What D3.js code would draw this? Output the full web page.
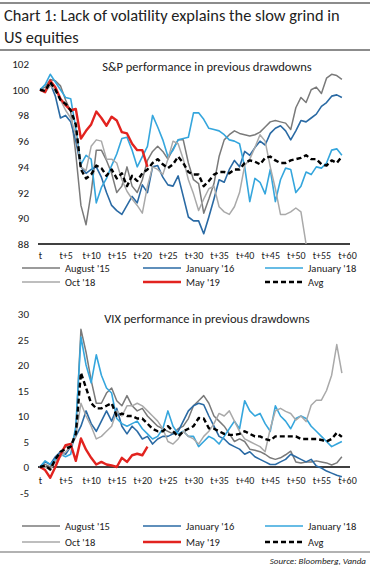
<meta charset="utf-8">
<script src="https://d3js.org/d3.v7.min.js"></script>
<style>
  body { margin: 0; background: #fff; }
  text { font-family: Carlito, Calibri, Lato, sans-serif; fill: #222; }
</style>
<div id="chart"></div>
<script>

// categories / tick labels
var tickValues = [0, 5, 10, 15, 20, 25, 30, 35, 40, 45, 50, 55, 60];
var tickLabels = ["t", "t+5", "t+10", "t+15", "t+20", "t+25", "t+30", "t+35", "t+40", "t+45", "t+50", "t+55", "t+60"];
var names = ["August '15", "January '16", "January '18", "Oct '18", "May '19", "Avg"];
var spTicks = [88, 90, 92, 94, 96, 98, 100, 102];
var vixTicks = [-5, 0, 5, 10, 15, 20, 25, 30];

// S&P performance (rebased to 100)
var spAug15 = [100, 100.2, 100.8, 100.7, 100.3, 99.2, 98.3, 95, 91, 89.5, 92, 95.3, 95.3, 94.5, 93.5, 92, 92.5, 94, 92.5, 92, 93, 94.5, 95.2, 95.6, 95.2, 94.6, 95.4, 96.1, 96.1, 94.3, 93, 92.7, 90.4, 91.5, 92.7, 94.8, 96.1, 96.5, 96.8, 96.6, 96.5, 96.4, 96.5, 96.7, 97.1, 97.5, 97.6, 97.5, 97.4, 96.9, 98.6, 99.4, 99.0, 100.0, 100.2, 99.7, 100.9, 101.2, 101.1, 100.8];
var spJan16 = [100, 99.9, 100.5, 99.5, 97.8, 98.0, 97.5, 96.0, 94.0, 93.5, 93.8, 94.0, 93.2, 92.0, 91.0, 90.6, 90.3, 91.0, 91.7, 91.2, 92.6, 92.0, 94.0, 94.1, 93.2, 92.6, 92.5, 93.3, 91.7, 90.1, 89.8, 89.8, 88.8, 90.1, 91.5, 93.0, 92.8, 93.8, 94.5, 94.0, 95.2, 94.9, 95.5, 96.0, 95.7, 96.6, 97.0, 97.2, 96.8, 96.1, 96.8, 97.6, 97.5, 97.8, 98.1, 98.7, 99.0, 99.5, 99.6, 99.4];
var spJan18 = [100, 100.4, 101.2, 100.6, 100.0, 99.4, 99.3, 97.0, 94.2, 94.9, 94.6, 91.2, 92.4, 93.1, 94.1, 95.0, 96.2, 96.3, 95.3, 94.0, 94.8, 95.6, 98.0, 97.1, 96.1, 94.8, 95.3, 96.1, 96.2, 96.3, 98.2, 98.2, 97.7, 97.0, 96.9, 96.8, 96.5, 96.1, 96.0, 95.8, 94.0, 91.3, 93.1, 92.8, 91.9, 93.8, 91.3, 93.0, 93.9, 93.8, 92.0, 92.5, 93.6, 93.4, 94.0, 93.9, 94.3, 95.3, 95.4, 94.9];
var spOct18 = [100, 99.8, 100.3, 100.0, 99.2, 98.4, 97.8, 96.5, 94.0, 93.7, 95.6, 96.1, 96.0, 94.6, 94.6, 94.3, 93.0, 92.1, 91.5, 91.0, 90.4, 92.5, 94.0, 93.8, 93.4, 94.6, 96.0, 95.8, 94.6, 93.0, 91.9, 90.6, 91.5, 92.3, 92.5, 90.9, 90.5, 90.3, 90.9, 92.0, 94.1, 94.6, 95.5, 96.5, 96.0, 94.0, 92.3, 90.3, 90.3, 90.5, 90.8, 90.5, 88.0];
var spMay19 = [100, 99.8, 100.7, 100.2, 99.3, 98.8, 98.4, 98.5, 96.2, 96.8, 97.3, 98.3, 97.8, 97.2, 97.9, 97.6, 96.7, 96.6, 95.8, 95.3, 95.3, 94.0];
var spAvg = [100, 99.9, 100.6, 100.0, 99.2, 98.9, 98.4, 97.3, 93.8, 93.1, 93.4, 94.1, 93.9, 93.3, 93.8, 93.1, 93.5, 92.5, 93.3, 92.9, 93.5, 93.8, 94.3, 94.6, 94.2, 93.9, 94.2, 94.8, 94.3, 93.6, 93.4, 93.4, 92.5, 92.9, 93.4, 93.6, 93.6, 93.5, 93.8, 93.8, 94.3, 94.5, 94.4, 94.2, 94.7, 94.8, 94.5, 94.3, 94.3, 94.5, 94.6, 94.7, 94.9, 94.6, 94.6, 94.2, 94.1, 94.5, 94.3, 94.8];

// VIX performance (change in points)
var vixAug15 = [0, 0.5, 0, 1.5, 3, 4, 4, 7, 27, 22.5, 17, 12.5, 12.5, 14.5, 15.5, 13, 12, 14, 12, 11, 11.5, 10, 9, 8, 7.5, 7, 6.5, 7.5, 8, 9.5, 12, 13, 14, 12.5, 10, 9, 8, 6.5, 5, 5.5, 5, 3.5, 3.3, 3, 2.5, 1.8, 1.5, 1.8, 2.4, 3.1, 1, 0.8, 1, 1, 1.2, 1, 0.8, 0.4, 0.8, 2];
var vixJan16 = [0, 1, 0.5, 2, 3, 2.5, 4, 6, 8, 11, 8.5, 7, 9, 11, 9, 11.5, 8, 6.5, 8, 7, 5.5, 6, 4.5, 5.5, 6, 6, 6.5, 7, 9, 11, 12, 12.5, 12.2, 10, 8, 6, 5.5, 4.5, 4, 3.5, 2.5, 3, 2, 1.5, 1, 0.5, 0.5, 1, 1.5, 2.5, 2, 1.5, 1, 1.5, 0.2, -0.2, -0.8, -1.2, -1.6, -1.9];
var vixJan18 = [0, 1.2, 0.5, 1.5, 2.5, 2, 2.5, 8, 25.5, 20, 16.5, 22, 18, 15.5, 14.5, 9.5, 8.5, 8, 8.5, 9, 7.5, 6.5, 5.5, 6, 7.5, 11, 8, 6.5, 7, 6, 6, 4, 5, 6, 5.5, 4.5, 6, 7.5, 9, 7.5, 13, 11, 10, 10.5, 8.5, 7, 12, 10, 9, 7.5, 9.5, 10, 9.5, 8, 7, 6, 5, 4, 4.5, 5];
var vixOct18 = [0, 0, -0.5, 1, 2, 3, 4, 6, 12.5, 10, 8, 5.5, 6, 7, 8, 11, 10, 12, 12, 12.5, 12, 11, 10, 9, 7.5, 5, 4.5, 5.5, 7, 6, 5.5, 4.5, 6, 7, 8.5, 10.5, 10, 11, 9, 7, 5.5, 5, 4.5, 4, 3, 7.5, 11, 11.5, 10.9, 10.5, 9.2, 10, 8.9, 12.1, 13.1, 13.1, 15, 18, 24, 18.4];
var vixMay19 = [0, -0.6, -2.1, 0, 2.4, 4.3, 4.5, 1.2, 5.6, 3.4, 1.8, 0.5, 1.0, 0.5, 0.3, 0.0, 1.8, 1.0, 2.3, 2.6, 2.3, 4.0];
var vixAvg = [0, 0.3, -0.5, 1.5, 3, 3.5, 4, 6.5, 18.5, 15.5, 12.5, 11.5, 11.5, 12, 12.5, 10, 10.5, 10, 10, 9.5, 9.5, 8.5, 7.5, 7, 7, 8, 7, 6, 7, 7.5, 8, 9.6, 9.5, 7.6, 7.5, 7, 6.5, 6.3, 6.3, 6.5, 7, 6.5, 6, 6, 5.5, 5.2, 6, 6, 6, 6, 6, 5.5, 5.5, 5.5, 5.5, 5.3, 5, 5.5, 6.7, 5.9];

var colors = ["#7a7a7a", "#2a6aa4", "#35a6dd", "#a9a9a9", "#e2231f", "#000000"];
var widths = [1.5, 1.6, 1.6, 1.5, 2.4, 2.4];

var W = 370, H = 568;
var svg = d3.select("#chart").append("svg")
  .attr("width", W).attr("height", H);

// header
svg.append("line").attr("x1", 0).attr("x2", W).attr("y1", 3).attr("y2", 3)
  .attr("stroke", "#666").attr("stroke-width", 1.5);
svg.append("text").attr("x", 4).attr("y", 21).style("font-size", "16.4px")
  .text("Chart 1: Lack of volatility explains the slow grind in");
svg.append("text").attr("x", 4).attr("y", 43).style("font-size", "16.4px")
  .text("US equities");
svg.append("line").attr("x1", 0).attr("x2", W).attr("y1", 50).attr("y2", 50)
  .attr("stroke", "#666").attr("stroke-width", 1.5);

var x = d3.scaleLinear().domain([0, 60]).range([40, 347]);

function panel(opts) {
  var y = d3.scaleLinear().domain(opts.domain).range(opts.range);
  var g = svg.append("g");

  // y labels
  g.append("g")
    .attr("transform", "translate(29,0)")
    .call(d3.axisLeft(y).tickValues(opts.ticks).tickSize(0).tickPadding(0)
      .tickFormat(function(d) { return String(d); }))
    .call(function(a) { a.select(".domain").remove(); })
    .selectAll("text")
      .style("font-size", "11px")
      .style("font-family", "Carlito, Calibri, Lato, sans-serif")
      .attr("fill", "#222");

  // x axis line
  g.append("line")
    .attr("x1", x(0) - 2).attr("x2", x(60) + 3)
    .attr("y1", y(opts.base)).attr("y2", y(opts.base))
    .attr("stroke", "#000").attr("stroke-width", 1.5);

  // x labels
  g.append("g")
    .attr("transform", "translate(0," + opts.labelY + ")")
    .call(d3.axisBottom(x).tickValues(tickValues).tickSize(0).tickPadding(0)
      .tickFormat(function(d, i) { return tickLabels[i]; }))
    .call(function(a) { a.select(".domain").remove(); })
    .selectAll("text")
      .style("font-size", "10px")
      .style("font-family", "Carlito, Calibri, Lato, sans-serif")
      .attr("fill", "#222");

  // title
  g.append("text")
    .attr("x", 207).attr("y", opts.titleY)
    .attr("text-anchor", "middle")
    .style("font-size", "12.5px")
    .text(opts.title);

  var line = d3.line()
    .x(function(d, i) { return x(i); })
    .y(function(d) { return y(Math.max(d, opts.domain[0])); });

  opts.series.forEach(function(s, k) {
    g.append("path")
      .datum(s)
      .attr("fill", "none")
      .attr("stroke", colors[k])
      .attr("stroke-width", widths[k])
      .attr("stroke-linejoin", "round")
      .attr("stroke-dasharray", k == 5 ? "5,3" : null)
      .attr("d", line);
  });

  // legend
  var colX = [22, 143, 265];
  names.forEach(function(n, k) {
    var cx = colX[k % 3], cy = opts.legendY[Math.floor(k / 3)];
    g.append("line")
      .attr("x1", cx).attr("x2", cx + 38)
      .attr("y1", cy).attr("y2", cy)
      .attr("stroke", colors[k])
      .attr("stroke-width", k >= 4 ? 2.4 : 1.6)
      .attr("stroke-dasharray", k == 5 ? "5,3" : null);
    g.append("text")
      .attr("x", cx + 43).attr("y", cy).attr("dy", "0.35em")
      .style("font-size", "10.5px")
      .text(n);
  });
}

panel({
  domain: [88, 102], range: [244, 64], ticks: spTicks, base: 88,
  labelY: 252, titleY: 71, title: "S&P performance in previous drawdowns",
  series: [spAug15, spJan16, spJan18, spOct18, spMay19, spAvg],
  legendY: [268, 282]
});

panel({
  domain: [-5, 30], range: [492.5, 314], ticks: vixTicks, base: 0,
  labelY: 477, titleY: 323, title: "VIX performance in previous drawdowns",
  series: [vixAug15, vixJan16, vixJan18, vixOct18, vixMay19, vixAvg],
  legendY: [526, 542]
});

// footer
svg.append("line").attr("x1", 0).attr("x2", W).attr("y1", 552).attr("y2", 552)
  .attr("stroke", "#666").attr("stroke-width", 1.2);
svg.append("text").attr("x", 366).attr("y", 564)
  .attr("text-anchor", "end")
  .style("font-size", "9px").style("font-style", "italic")
  .text("Source: Bloomberg, Vanda");

</script>
